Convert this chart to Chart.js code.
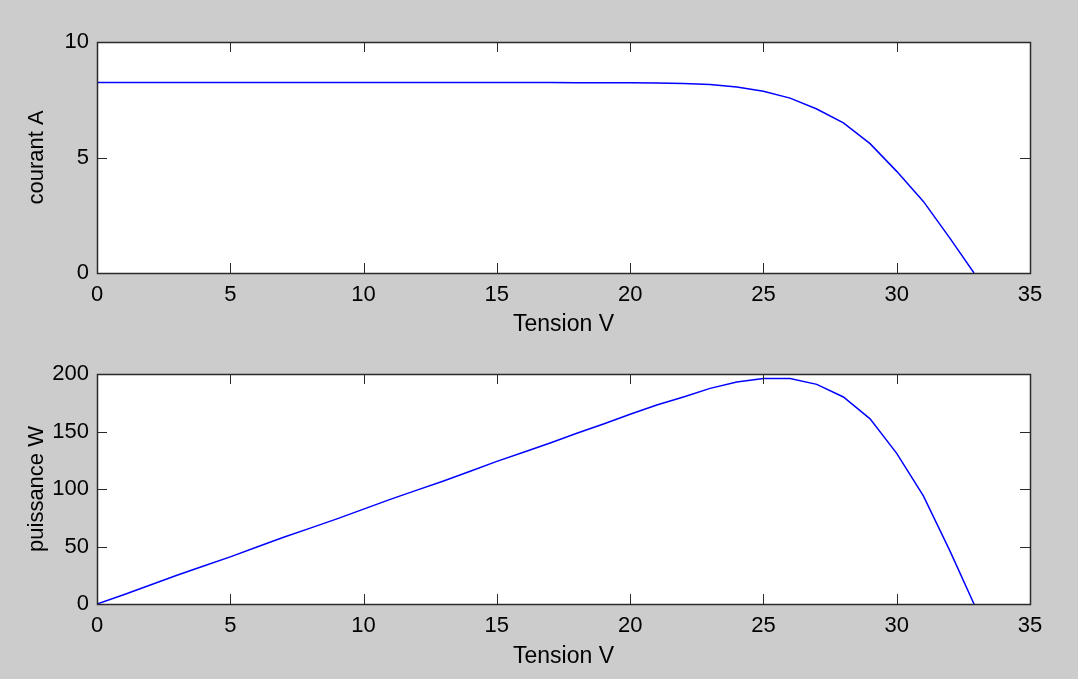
<!DOCTYPE html>
<html>
<head>
<meta charset="utf-8">
<script src="https://cdn.jsdelivr.net/npm/chart.js@4.4.1/dist/chart.umd.min.js"></script>
<style>
  body { margin: 0; background: #cccccc; width: 1078px; height: 679px; overflow: hidden; }
  canvas { position: absolute; left: 0; }
  #courantChart { top: 0; }
  #puissanceChart { top: 340px; }
</style>
</head>
<body>
<canvas id="courantChart" width="1078" height="340"></canvas>
<canvas id="puissanceChart" width="1078" height="339"></canvas>
<script>
// Tension (V) sampled along the curve
const tension = [0, 1, 2, 3, 4, 5, 6, 7, 8, 9, 10, 11, 12, 13, 14, 15, 16, 17, 18, 19, 20,
                 21, 22, 23, 24, 25, 26, 27, 28, 29, 30, 31, 32, 32.9];
// courant (A)
const courant = [8.25, 8.25, 8.25, 8.25, 8.25, 8.25, 8.25, 8.25, 8.25, 8.25, 8.25, 8.25, 8.25, 8.25,
                 8.25, 8.25, 8.25, 8.25, 8.24, 8.24, 8.24, 8.23, 8.2, 8.16, 8.05, 7.87, 7.57, 7.1,
                 6.5, 5.6, 4.4, 3.1, 1.5, 0];
// puissance (W)
const puissance = [0, 8, 16.5, 25, 33, 41, 49.5, 58, 66, 74, 82.5, 91, 99, 107, 115.5, 124, 132,
                   140, 148.5, 156.5, 165, 173, 180, 187.5, 193, 196, 196, 191, 180, 161, 131, 94,
                   46, 0];

const xTicks = [0, 5, 10, 15, 20, 25, 30, 35];
const courantTicks = [0, 5, 10];
const puissanceTicks = [0, 50, 100, 150, 200];

const FONT = 'Liberation Sans, Arial, sans-serif';

// MATLAB-style frame: white axes box, inward ticks on all four sides
const matlabBox = {
    id: 'matlabBox',
    beforeDraw(chart) {
        const { ctx, chartArea: a } = chart;
        ctx.save();
        ctx.fillStyle = '#ffffff';
        ctx.fillRect(a.left, a.top, a.right - a.left, a.bottom - a.top);
        ctx.restore();
    },
    afterDraw(chart) {
        const { ctx, chartArea: a, scales } = chart;
        const len = 10;
        ctx.save();
        ctx.strokeStyle = '#2a2a2a';
        ctx.lineWidth = 1;
        ctx.beginPath();
        scales.x.ticks.forEach(t => {
            const px = Math.round(scales.x.getPixelForValue(t.value)) + 0.5;
            ctx.moveTo(px, a.bottom); ctx.lineTo(px, a.bottom - len);
            ctx.moveTo(px, a.top); ctx.lineTo(px, a.top + len);
        });
        scales.y.ticks.forEach(t => {
            const py = Math.round(scales.y.getPixelForValue(t.value)) + 0.5;
            ctx.moveTo(a.left, py); ctx.lineTo(a.left + len, py);
            ctx.moveTo(a.right, py); ctx.lineTo(a.right - len, py);
        });
        ctx.stroke();
        ctx.lineWidth = 1.5;
        ctx.strokeRect(Math.round(a.left) + 0.5, Math.round(a.top) + 0.5,
                       Math.round(a.right - a.left), Math.round(a.bottom - a.top));
        ctx.restore();
    }
};

function makeChart(canvasId, values, yTicks, yLabel, padTop, xHeight, xTitlePad) {
    const points = tension.map((v, i) => ({ x: v, y: values[i] }));
    return new Chart(document.getElementById(canvasId), {
        type: 'line',
        data: {
            datasets: [{
                data: points,
                borderColor: '#0000ff',
                borderWidth: 1.5,
                pointRadius: 0,
                tension: 0,
                fill: false
            }]
        },
        options: {
            responsive: false,
            animation: false,
            layout: { padding: { top: padTop, right: 48, left: 0, bottom: 0 } },
            plugins: { legend: { display: false }, tooltip: { enabled: false } },
            scales: {
                x: {
                    type: 'linear',
                    min: 0, max: 35,
                    afterBuildTicks: s => { s.ticks = xTicks.map(v => ({ value: v })); },
                    afterFit: s => { s.height = xHeight; },
                    grid: { display: false, drawTicks: false },
                    border: { display: false },
                    ticks: { color: '#000', font: { family: FONT, size: 22 }, padding: 9, maxRotation: 0 },
                    title: { display: true, text: 'Tension V', color: '#000',
                             font: { family: FONT, size: 23 }, padding: { top: 0, bottom: xTitlePad } }
                },
                y: {
                    type: 'linear',
                    min: yTicks[0], max: yTicks[yTicks.length - 1],
                    afterBuildTicks: s => { s.ticks = yTicks.map(v => ({ value: v })); },
                    afterFit: s => { s.width = 97; },
                    grid: { display: false, drawTicks: false },
                    border: { display: false },
                    ticks: { color: '#000', font: { family: FONT, size: 22 }, padding: 8 },
                    title: { display: true, text: yLabel, color: '#000',
                             font: { family: FONT, size: 22 }, padding: { top: 24, bottom: 0 } }
                }
            }
        },
        plugins: [matlabBox]
    });
}

// top: chart area 42..273, bottom: 374..604 (page coords)
const courantChart = makeChart('courantChart', courant, courantTicks, 'courant A', 42, 67, 2);
const puissanceChart = makeChart('puissanceChart', puissance, puissanceTicks, 'puissance W', 34, 75, 9);
</script>
</body>
</html>
